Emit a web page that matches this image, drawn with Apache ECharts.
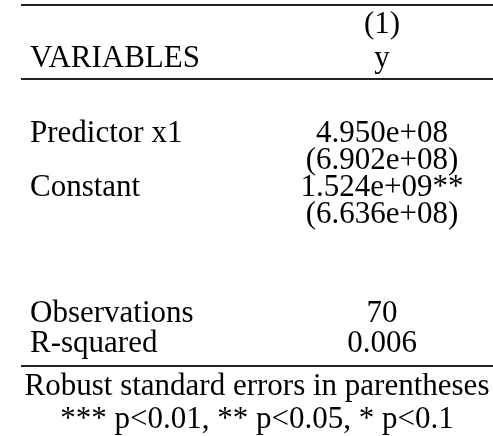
<!DOCTYPE html>
<html>
<head>
<meta charset="utf-8">
<script src="https://cdn.jsdelivr.net/npm/echarts@6/dist/echarts.min.js"></script>
<style>
  html, body { margin: 0; padding: 0; background: #fff; }
  #table { width: 493px; height: 436px; }
</style>
</head>
<body>
<div id="table"></div>
<script>
// table contents
var headerTop = ['(1)'];
var headerName = ['VARIABLES', 'y'];
var varNames = ['Predictor x1', 'Constant'];
var coefs = ['4.950e+08', '1.524e+09**'];
var stdErrs = ['(6.902e+08)', '(6.636e+08)'];
var statNames = ['Observations', 'R-squared'];
var statVals = ['70', '0.006'];
var notes = ['Robust standard errors in parentheses', '*** p<0.01, ** p<0.05, * p<0.1'];

// layout (axis units = px of the page), rows given by text baseline
var leftX = 30, colX = 382, noteX = 257;
var fs = 31;
var descent = 7;
var rowBase = {
    top: 33, head: 67,
    vars: [142, 196], se: [169, 223],
    stats: [322, 352], notes: [395, 428]
};
var rules = [5, 79, 366];

var cells = [];
cells.push([colX, rowBase.top, headerTop[0], 'center']);
cells.push([leftX, rowBase.head, headerName[0], 'left']);
cells.push([colX, rowBase.head, headerName[1], 'center']);
varNames.forEach(function (n, i) {
    cells.push([leftX, rowBase.vars[i], n, 'left']);
    cells.push([colX, rowBase.vars[i], coefs[i], 'center']);
    cells.push([colX, rowBase.se[i], stdErrs[i], 'center']);
});
statNames.forEach(function (n, i) {
    cells.push([leftX, rowBase.stats[i], n, 'left']);
    cells.push([colX, rowBase.stats[i], statVals[i], 'center']);
});
notes.forEach(function (n, i) {
    cells.push([noteX, rowBase.notes[i], n, 'center']);
});

var chart = echarts.init(document.getElementById('table'));
chart.setOption({
    animation: false,
    grid: {left: 0, right: 0, top: 0, bottom: 0},
    xAxis: {type: 'value', min: 0, max: 493, show: false},
    yAxis: {type: 'value', min: 0, max: 436, inverse: true, show: false},
    series: [{
        type: 'custom',
        coordinateSystem: 'cartesian2d',
        data: cells,
        renderItem: function (params, api) {
            var d = cells[params.dataIndex];
            var p = api.coord([d[0], d[1] + descent]);
            return {
                type: 'text',
                x: p[0],
                y: p[1],
                style: {
                    text: d[2],
                    fill: '#000',
                    fontFamily: 'Liberation Serif',
                    fontSize: fs,
                    align: d[3],
                    verticalAlign: 'bottom'
                }
            };
        }
    }, {
        type: 'custom',
        coordinateSystem: 'cartesian2d',
        data: rules,
        renderItem: function (params, api) {
            var y = rules[params.dataIndex];
            var a = api.coord([21, y]);
            var b = api.coord([493, y]);
            return {
                type: 'line',
                shape: {x1: a[0], y1: a[1], x2: b[0], y2: b[1]},
                style: {stroke: '#222', lineWidth: 2}
            };
        }
    }]
});
</script>
</body>
</html>
